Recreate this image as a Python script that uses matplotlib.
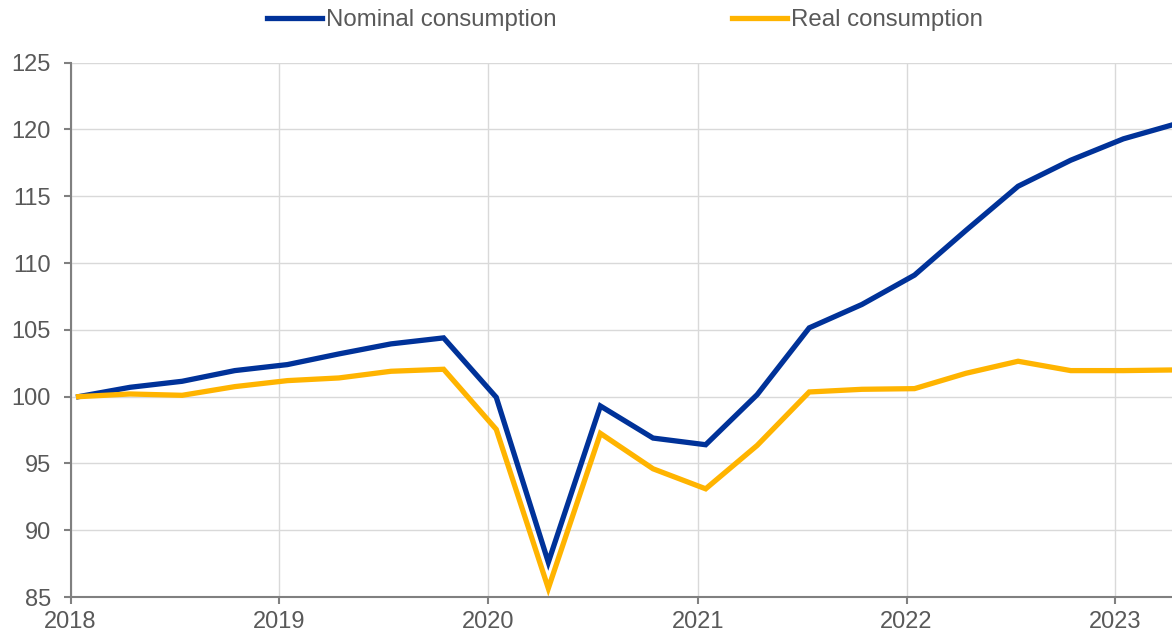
import matplotlib.pyplot as plt
import matplotlib.dates as mdates
import pandas as pd

# Quarterly consumption index, 2018Q1 = 100
quarters = pd.period_range('2018Q1', '2023Q2', freq='Q')
nominal = [100.0, 100.7, 101.15, 101.95, 102.4, 103.2, 103.95, 104.4,
           99.95, 87.6, 99.3, 96.9, 96.4, 100.15, 105.15, 106.9,
           109.1, 112.45, 115.75, 117.7, 119.3, 120.4]
real = [100.0, 100.2, 100.1, 100.75, 101.2, 101.4, 101.9, 102.05,
        97.55, 85.65, 97.25, 94.6, 93.1, 96.35, 100.35, 100.55,
        100.6, 101.75, 102.65, 101.95, 101.95, 102.0]
labels = ['Nominal consumption', 'Real consumption']
colors = ['#003299', '#FFB400']

# points sit in mid-January/April/July/October
dates = quarters.start_time + pd.Timedelta(days=14)

plt.rcParams['font.family'] = ['Liberation Sans', 'DejaVu Sans']
grey = '#595959'

fig = plt.figure(figsize=(11.72, 6.36), dpi=100)
ax = fig.add_axes([0.0602, 0.0613, 0.9398, 0.8401])

for vals, lab, col in zip([nominal, real], labels, colors):
    ax.plot(dates, vals, color=col, lw=3.8, label=lab, solid_joinstyle='miter')

ax.set_ylim(85, 125)
ax.set_yticks(range(85, 126, 5))
ax.set_xlim(pd.Timestamp('2018-01-01'), pd.Timestamp('2023-04-10'))
ax.xaxis.set_major_locator(mdates.YearLocator())
ax.xaxis.set_major_formatter(mdates.DateFormatter('%Y'))

ax.grid(True, color='#d9d9d9', lw=1)
ax.set_axisbelow(True)
for s in ['top', 'right']:
    ax.spines[s].set_visible(False)
for s in ['left', 'bottom']:
    ax.spines[s].set_color('#808080')
    ax.spines[s].set_linewidth(1.5)
ax.tick_params(axis='both', colors='#808080', labelcolor=grey, labelsize=17,
               length=5, width=1.5)
ax.tick_params(axis='y', pad=9)
ax.tick_params(axis='x', pad=5)

fig.legend(loc='center', bbox_to_anchor=(0.533, 0.968), ncol=2, frameon=False,
           fontsize=17.3, handlelength=2.3, handletextpad=0.15,
           columnspacing=7.3, labelcolor=grey)

fig.savefig('out.png', dpi=100)
